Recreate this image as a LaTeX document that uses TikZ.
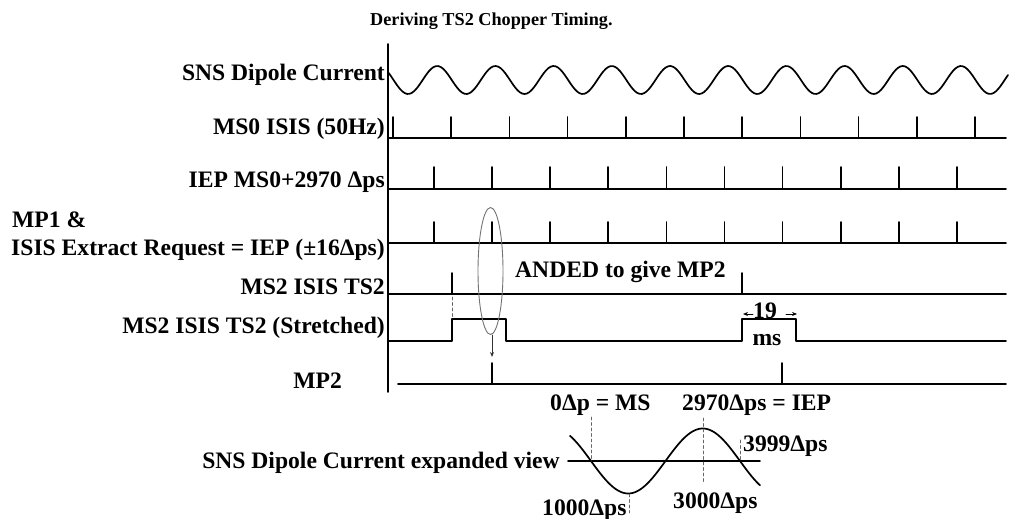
\documentclass[tikz,border=0pt]{standalone}
\usepackage{fontspec}
\setmainfont{Liberation Serif}
\usetikzlibrary{arrows.meta}

\begin{document}
\begin{tikzpicture}[x=1pt,y=-1pt,line cap=round,line join=round,
    sig/.style={line width=1.7pt},
    lbl/.style={font=\fontsize{23.6}{26}\selectfont\bfseries,inner sep=0pt},
    guide/.style={line width=0.8pt,black!60,dash pattern=on 3pt off 2.5pt},
    tip/.style={line width=0.9pt,-{Stealth[length=5pt,width=4pt]}}]
  \useasboundingbox (0,0) rectangle (1010,519);
  % time axis
  \coordinate (T) at (388,44);
  \coordinate (B) at (388,392);
  \draw[sig] (T) -- (B);
  % SNS dipole current
  \draw[sig] plot[domain=388:1008,samples=260] (\x,{80-14*cos(6.1856*(\x-379))});
  % MS0 ISIS (50Hz)
  \draw[sig] (388,138) -- (1006,138);
  \foreach \i in {0,...,10}
    \draw[sig] ({393+58.2*\i},138) -- ++(0,-21);
  % IEP
  \draw[sig] (388,189) -- (1006,189);
  \foreach \i in {0,...,9}
    \draw[sig] ({434+58.1*\i},189) -- ++(0,-22);
  % MP1 & extract request
  \draw[sig] (388,243) -- (1006,243);
  \foreach \i in {0,...,9}
    \draw[sig] ({434+58.1*\i},243) -- ++(0,-21);
  % MS2 ISIS TS2
  \draw[sig] (388,294) -- (1006,294);
  \foreach \x in {452,742}
    \draw[sig] (\x,294) -- ++(0,-21);
  % stretched
  \draw[sig] (388,341) -- (452,341) -- (452,319) -- (506,319) -- (506,341)
    -- (742,341) -- (742,319) -- (796,319) -- (796,341) -- (1006,341);
  \draw[guide] (452,297) -- (452,317);
  % MP2
  \draw[sig] (398,384) -- (1006,384);
  \foreach \x in {492,782}
    \draw[sig] (\x,384) -- ++(0,-21);
  % AND marker
  \draw[line width=0.9pt,black!55] (490.5,271) ellipse [x radius=12.5pt,y radius=63.5pt];
  \draw[tip,black!80] (492,335) -- (492,357);
  \draw[tip] (753,314) -- (743,314);
  \draw[tip] (786,314) -- (797,314);
  % labels
  \node[font=\fontsize{18.2}{20}\selectfont\bfseries,inner sep=0pt,anchor=base west] (title) at (370,26) {Deriving TS2 Chopper Timing.};
  \node[lbl,anchor=base east] (lbldipole) at (385,81) {SNS Dipole Current};
  \node[lbl,anchor=base east] (lblmszero) at (385,135) {MS0 ISIS (50Hz)};
  \node[lbl,anchor=base east] (lbliep) at (385,187) {IEP MS0+2970 Δps};
  \node[lbl,anchor=base west] (lblmpone) at (12,227) {MP1 \&};
  \node[lbl,anchor=base east] (lblextract) at (385,255) {ISIS Extract Request = IEP (±16Δps)};
  \node[lbl,anchor=base east] (lblmstwo) at (385,294) {MS2 ISIS TS2};
  \node[lbl,anchor=base east] (lblstretch) at (385,333) {MS2 ISIS TS2 (Stretched)};
  \node[lbl,anchor=base east] (lblmptwo) at (342,388) {MP2};
  \node[lbl,anchor=base west] (anded) at (515,277) {ANDED to give MP2};
  \node[lbl,anchor=base] (widthval) at (765,318) {19};
  \node[lbl,anchor=base] (widthunit) at (767,345) {ms};
  % expanded view
  \draw[sig] (568,461) -- (760,461);
  \draw[sig] plot[domain=570:760,samples=120] (\x,{461+32.5*sin(2.4161*(\x-591))});
  \draw[guide] (591,417) -- (591,461);
  \draw[guide] (703,418) -- (703,482);
  \draw[guide] (629,494) -- (629,513);
  \draw[guide] (740,440) -- (740,461);
  \node[lbl,anchor=base east] (lblexpand) at (560,468) {SNS Dipole Current expanded view};
  \node[lbl,anchor=base west] (lblzero) at (550,410) {0Δp = MS};
  \node[lbl,anchor=base west] (lblieptime) at (682,410) {2970Δps = IEP};
  \node[lbl,anchor=base west] (lblend) at (743,451) {3999Δps};
  \node[lbl,anchor=base west] (lbltrough) at (542,515) {1000Δps};
  \node[lbl,anchor=base west] (lblpeak) at (673,508) {3000Δps};
\end{tikzpicture}
\end{document}
